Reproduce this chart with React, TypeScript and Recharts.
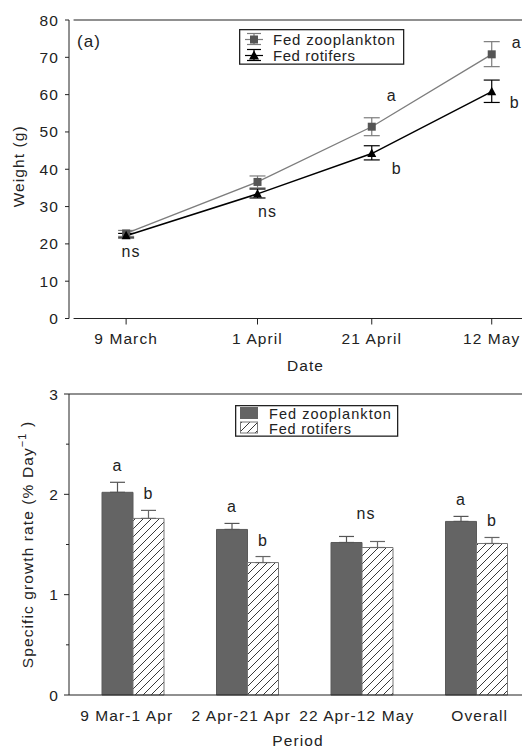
import React from "react";
import {
  LineChart,
  Line,
  BarChart,
  Bar,
  XAxis,
  YAxis,
  ErrorBar,
  LabelList,
  Legend,
  ReferenceLine,
  Label,
} from "recharts";

// (a) weight over time
const dateLabels = ["9 March", "1 April", "21 April", "12 May"];
const dateDays = [0, 23, 43, 64];
const zooWeight = [22.8, 36.6, 51.4, 70.8];
const zooWeightLow = [0.8, 1.6, 2.4, 3.3];
const zooWeightHigh = [0.8, 1.6, 2.4, 3.4];
const rotWeight = [22.2, 33.4, 44.2, 60.8];
const rotWeightLow = [0.6, 1.1, 1.7, 2.9];
const rotWeightHigh = [0.6, 1.3, 2.1, 3.1];
const zooWeightSig = ["", "", "a", "a"];
const rotWeightSig = ["ns", "ns", "b", "b"];
const weightTicks = [0, 10, 20, 30, 40, 50, 60, 70, 80];

// (b) specific growth rate
const periods = ["9 Mar-1 Apr", "2 Apr-21 Apr", "22 Apr-12 May", "Overall"];
const zooSgr = [2.02, 1.65, 1.52, 1.73];
const zooSgrErr = [0.1, 0.06, 0.06, 0.05];
const rotSgr = [1.76, 1.32, 1.47, 1.51];
const rotSgrErr = [0.08, 0.06, 0.06, 0.06];
const zooSgrSig = ["a", "a", "", "a"];
const rotSgrSig = ["b", "b", "", "b"];
const groupSig = ["", "", "ns", ""];
const sgrTicks = [0, 0.5, 1, 1.5, 2, 2.5, 3];

const weightData = dateDays.map((day, i) => ({
  day,
  zoo: zooWeight[i],
  zooErr: [zooWeightLow[i], zooWeightHigh[i]],
  rot: rotWeight[i],
  rotErr: [rotWeightLow[i], rotWeightHigh[i]],
}));

const sgrData = periods.map((period, i) => ({
  period,
  zoo: zooSgr[i],
  zooErr: [0, zooSgrErr[i]],
  rot: rotSgr[i],
  rotErr: [0, rotSgrErr[i]],
}));

const INK = "#222";
const ZOO_LINE = "#7d7d7d";
const ZOO_MARK = "#555";
const ZOO_BAR = "#646464";
const FONT = 15.5;

// label placement for the significance letters (pixels from the point)
const zooSigOffset = [[0, 0], [0, 0], [20, -31], [25, -12]];
const rotSigOffset = [[5, 16], [10, 18], [25, 15], [23, 11]];
const periodTickDx = [-6.5, -6.5, -5.5, 3];

const SquareDot = (props: any) => {
  const { cx, cy, index } = props;
  if (cx == null || cy == null) return <g key={index} />;
  return <rect key={index} x={cx - 4} y={cy - 4} width={8} height={8} fill={ZOO_MARK} />;
};

const TriangleDot = (props: any) => {
  const { cx, cy, index } = props;
  if (cx == null || cy == null) return <g key={index} />;
  return (
    <polygon
      key={index}
      points={`${cx},${cy - 5} ${cx + 4.5},${cy + 3.5} ${cx - 4.5},${cy + 3.5}`}
      fill="#000"
    />
  );
};

const lineSig = (sig: string[], offsets: number[][]) => (props: any) => {
  const { x, y, index } = props;
  const s = sig[index];
  if (!s) return null;
  return (
    <text
      x={x + offsets[index][0]}
      y={y + offsets[index][1]}
      textAnchor="middle"
      dominantBaseline="central"
      fontSize={16}
      fill={INK}
    >
      {s}
    </text>
  );
};

const barSig = (sig: string[], err: number[], extra?: string[]) => (props: any) => {
  const { x, y, width, height, index, value } = props;
  const errTop = y - (err[index] * height) / value;
  return (
    <g>
      {sig[index] && (
        <text x={x + width / 2} y={errTop - 11} textAnchor="middle" fontSize={16} fill={INK}>
          {sig[index]}
        </text>
      )}
      {extra && extra[index] && (
        <text x={x + width + 4} y={errTop - 17} textAnchor="middle" fontSize={16} fill={INK}>
          {extra[index]}
        </text>
      )}
    </g>
  );
};

const WeightLegend = () => (
  <svg width={166} height={36}>
    <rect x={0.65} y={0.65} width={164} height={34.5} fill="#fff" stroke={INK} strokeWidth={1.3} />
    <g stroke={ZOO_LINE} strokeWidth={1.2}>
      <line x1={6} x2={24} y1={10.5} y2={10.5} />
      <line x1={15} x2={15} y1={4.5} y2={15.5} />
      <line x1={8} x2={22} y1={4.5} y2={4.5} />
      <line x1={8} x2={22} y1={15.5} y2={15.5} />
    </g>
    <rect x={11} y={6.5} width={8} height={8} fill={ZOO_MARK} />
    <g stroke="#000" strokeWidth={1.2}>
      <line x1={6} x2={24} y1={26.5} y2={26.5} />
      <line x1={15} x2={15} y1={20.5} y2={31.5} />
      <line x1={8} x2={22} y1={20.5} y2={20.5} />
      <line x1={8} x2={22} y1={31.5} y2={31.5} />
    </g>
    <polygon points="15,21.5 20,30.5 10,30.5" fill="#000" />
    <text x={34} y={16} fontSize={15} fill={INK} textLength={123} lengthAdjust="spacing">
      Fed zooplankton
    </text>
    <text x={34} y={32} fontSize={15} fill={INK} textLength={83} lengthAdjust="spacing">
      Fed rotifers
    </text>
  </svg>
);

const SgrLegend = () => (
  <svg width={164} height={32}>
    <rect x={0.65} y={0.65} width={162} height={30.5} fill="#fff" stroke={INK} strokeWidth={1.3} />
    <rect x={5} y={2} width={18} height={12} fill={ZOO_BAR} />
    <rect x={5.5} y={17} width={17} height={11} fill="url(#hatch)" stroke="#777" />
    <text x={34} y={14} fontSize={14.5} fill={INK} textLength={123} lengthAdjust="spacing">
      Fed zooplankton
    </text>
    <text x={34} y={28.5} fontSize={14.5} fill={INK} textLength={83} lengthAdjust="spacing">
      Fed rotifers
    </text>
  </svg>
);

const SgrTick = (props: any) => {
  const { x, y, payload } = props;
  const v = payload.value;
  const major = Number.isInteger(v);
  return (
    <g>
      <line x1={x - (major ? 5 : 3)} x2={x} y1={y} y2={y} stroke={INK} />
      {major && (
        <text x={x - 10} y={y} dy="0.36em" textAnchor="end" fontSize={FONT} fill={INK}>
          {v}
        </text>
      )}
    </g>
  );
};

const PeriodTick = (props: any) => {
  const { x, y, payload, index } = props;
  return (
    <text x={x + periodTickDx[index]} y={y} dy="0.71em" textAnchor="middle" fontSize={FONT} fill={INK}>
      {payload.value}
    </text>
  );
};

const NoLabel = () => <g />;

export default function App() {
  return (
    <div
      style={{
        position: "absolute",
        left: 0,
        top: 0,
        width: 522,
        height: 748,
        overflow: "hidden",
        background: "#fff",
        fontFamily: "'Liberation Sans', Arial, sans-serif",
        letterSpacing: "1.1px",
      }}
    >
      <LineChart width={522} height={374} data={weightData} margin={{ top: 20, right: 0, left: 0, bottom: 0 }}>
        <XAxis
          dataKey="day"
          type="number"
          domain={[-10, 69.3]}
          ticks={dateDays}
          tickFormatter={(v) => dateLabels[dateDays.indexOf(v)]}
          axisLine={false}
          tickSize={6}
          tickMargin={8.5}
          height={55.5}
          stroke={INK}
          tick={{ fill: INK, fontSize: FONT }}
          allowDataOverflow
        >
          <Label
            content={(p: any) => (
              <text
                x={p.viewBox.x + p.viewBox.width / 2 + 10}
                y={p.viewBox.y + 52.5}
                textAnchor="middle"
                fontSize={FONT}
                fill={INK}
              >
                Date
              </text>
            )}
          />
        </XAxis>
        <YAxis
          type="number"
          domain={[0, 80]}
          ticks={weightTicks}
          width={69}
          tickSize={4}
          tickMargin={6}
          stroke={INK}
          tick={{ fill: INK, fontSize: FONT }}
        >
          <Label
            content={(p: any) => (
              <text
                transform={`translate(${p.viewBox.x + 24},${p.viewBox.y + p.viewBox.height / 2 - 3}) rotate(-90)`}
                textAnchor="middle"
                fontSize={FONT}
                fill={INK}
              >
                Weight (g)
              </text>
            )}
          />
        </YAxis>
        <ReferenceLine segment={[{ x: -9.2, y: 0 }, { x: 69.3, y: 0 }]} stroke={INK} strokeWidth={1.2} />
        <ReferenceLine segment={[{ x: -9.2, y: 80 }, { x: 69.3, y: 80 }]} stroke={INK} strokeWidth={1.2} />
        <text x={77} y={47} fontSize={17} fill={INK}>(a)</text>
        <Legend
          layout="vertical"
          align="center"
          verticalAlign="middle"
          wrapperStyle={{ left: 239, top: 29, width: 166, height: 36 }}
          content={() => <WeightLegend />}
        />
        <Line
          dataKey="zoo"
          name="Fed zooplankton"
          stroke={ZOO_LINE}
          strokeWidth={1.3}
          dot={SquareDot}
          isAnimationActive={false}
        >
          <ErrorBar dataKey="zooErr" direction="y" width={8} stroke={ZOO_LINE} strokeWidth={1.2} />
          <LabelList dataKey="zoo" content={lineSig(zooWeightSig, zooSigOffset)} />
        </Line>
        <Line
          dataKey="rot"
          name="Fed rotifers"
          stroke="#000"
          strokeWidth={1.5}
          dot={TriangleDot}
          isAnimationActive={false}
        >
          <ErrorBar dataKey="rotErr" direction="y" width={8} stroke="#000" strokeWidth={1.2} />
          <LabelList dataKey="rot" content={lineSig(rotWeightSig, rotSigOffset)} />
        </Line>
      </LineChart>

      <BarChart
        width={534}
        height={374}
        data={sgrData}
        margin={{ top: 20, right: 0, left: 0, bottom: 0 }}
        barGap={0}
        barSize={31}
      >
        <defs>
          <pattern id="hatch" patternUnits="userSpaceOnUse" width={8} height={8}>
            <rect width={8} height={8} fill="#fff" />
            <path d="M-2,2 L2,-2 M0,8 L8,0 M6,10 L10,6" stroke={INK} strokeWidth={0.9} />
          </pattern>
        </defs>
        <XAxis
          xAxisId="n"
          type="number"
          domain={[0, 465 / 114.5]}
          ticks={[0, 1, 2, 3]}
          tick={<NoLabel />}
          tickLine={{ stroke: INK, strokeWidth: 1.2 }}
          axisLine={false}
          tickSize={6}
          height={0}
          allowDataOverflow
        />
        <XAxis
          dataKey="period"
          padding={{ left: 7, right: 0 }}
          tickLine={false}
          axisLine={{ stroke: INK, strokeWidth: 1.2 }}
          height={53}
          tickSize={6}
          tickMargin={9}
          interval={0}
          tick={<PeriodTick />}
        >
          <Label
            content={(p: any) => (
              <text
                x={p.viewBox.x + p.viewBox.width / 2 - 3.5}
                y={p.viewBox.y + 51}
                textAnchor="middle"
                fontSize={FONT}
                fill={INK}
              >
                Period
              </text>
            )}
          />
        </XAxis>
        <YAxis
          type="number"
          domain={[0, 3]}
          ticks={sgrTicks}
          width={69}
          tickSize={0}
          tickMargin={0}
          tickLine={false}
          stroke={INK}
          tick={<SgrTick />}
          interval={0}
        >
          <Label
            content={(p: any) => (
              <text
                transform={`translate(${p.viewBox.x + 32.5},${p.viewBox.y + p.viewBox.height / 2}) rotate(-90)`}
                textAnchor="middle"
                fontSize={FONT}
                fill={INK}
              >
                Specific growth rate (% Day
                <tspan fontSize={11} dy="-0.6em">−1</tspan>
                <tspan dy="0.4em"> )</tspan>
              </text>
            )}
          />
        </YAxis>
        <ReferenceLine y={3} stroke={INK} strokeWidth={1.2} />
        <ReferenceLine xAxisId="n" x={3} stroke={INK} strokeWidth={1.2} />
        <text x={76} y={420} fontSize={17} fill={INK}>(b)</text>
        <Legend
          layout="vertical"
          align="center"
          verticalAlign="middle"
          wrapperStyle={{ left: 235, top: 31, width: 164, height: 32 }}
          content={() => <SgrLegend />}
        />
        <Bar dataKey="zoo" name="Fed zooplankton" fill={ZOO_BAR} stroke="#5a5a5a" isAnimationActive={false}>
          <ErrorBar dataKey="zooErr" direction="y" width={7.5} stroke="#555" strokeWidth={1.2} />
          <LabelList dataKey="zoo" content={barSig(zooSgrSig, zooSgrErr, groupSig)} />
        </Bar>
        <Bar dataKey="rot" name="Fed rotifers" fill="url(#hatch)" stroke="#777" isAnimationActive={false}>
          <ErrorBar dataKey="rotErr" direction="y" width={7.5} stroke="#666" strokeWidth={1.2} />
          <LabelList dataKey="rot" content={barSig(rotSgrSig, rotSgrErr)} />
        </Bar>
      </BarChart>
    </div>
  );
}
